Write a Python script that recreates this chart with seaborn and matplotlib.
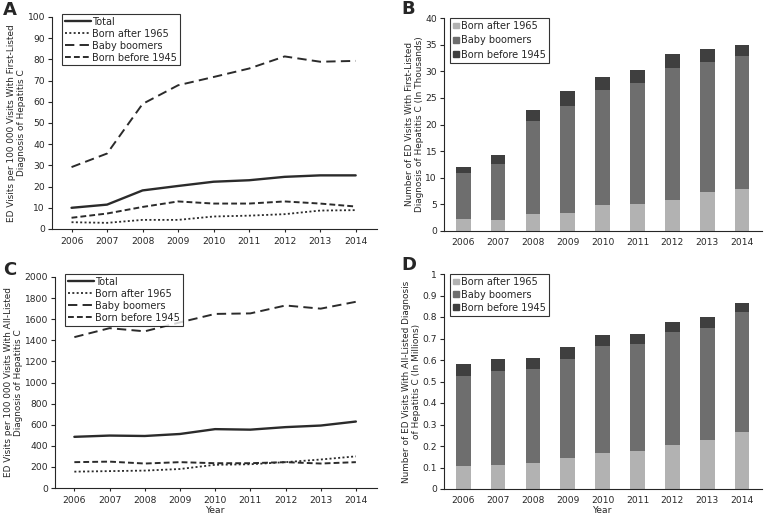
import matplotlib
matplotlib.use("Agg")
import matplotlib.pyplot as plt
import seaborn as sns
import pandas as pd
import numpy as np
from matplotlib.lines import Line2D
from matplotlib.patches import Patch

years = [2006, 2007, 2008, 2009, 2010, 2011, 2012, 2013, 2014]
groups = ["Total", "Born after 1965", "Baby boomers", "Born before 1945"]

# panel A: rate per 100 000 visits, first-listed
rate_first_total = [10.0, 11.5, 18.2, 20.3, 22.3, 23.0, 24.6, 25.3, 25.3]
rate_first_after65 = [3.2, 2.9, 4.3, 4.3, 5.9, 6.3, 7.0, 8.7, 8.9]
rate_first_boomers = [29.2, 35.6, 59.0, 67.8, 71.7, 75.7, 81.4, 78.9, 79.3]
rate_first_before45 = [5.3, 7.3, 10.4, 13.0, 12.0, 12.0, 13.0, 12.0, 10.6]

# panel B: number of visits, first-listed (thousands)
n_first_after65 = [2.3, 2.1, 3.2, 3.4, 4.8, 5.1, 5.9, 7.4, 7.8]
n_first_boomers = [8.6, 10.4, 17.4, 20.1, 21.6, 22.6, 24.8, 24.4, 25.1]
n_first_before45 = [1.2, 1.7, 2.2, 2.7, 2.6, 2.5, 2.5, 2.3, 2.1]

# panel C: rate per 100 000 visits, all-listed
rate_all_total = [485, 497, 493, 512, 558, 553, 577, 592, 630]
rate_all_after65 = [155, 160, 165, 180, 220, 225, 245, 270, 300]
rate_all_boomers = [1430, 1515, 1485, 1570, 1650, 1655, 1730, 1700, 1765]
rate_all_before45 = [245, 250, 232, 245, 235, 235, 245, 232, 245]

# panel D: number of visits, all-listed (millions)
n_all_after65 = [0.108, 0.112, 0.122, 0.142, 0.168, 0.178, 0.205, 0.230, 0.267]
n_all_boomers = [0.417, 0.438, 0.436, 0.461, 0.497, 0.497, 0.525, 0.520, 0.555]
n_all_before45 = [0.055, 0.056, 0.052, 0.056, 0.053, 0.047, 0.048, 0.050, 0.045]

sns.set_theme(style="ticks")
plt.rcParams["font.family"] = ["DejaVu Sans"]
FS = 6.6
LFS = 7

W, H = 768, 516
fig = plt.figure(figsize=(W / 100, H / 100), dpi=100)


def add_ax(l, t, r, b):
    return fig.add_axes([l / W, (H - b) / H, (r - l) / W, (b - t) / H])


line_dashes = {"Total": "", "Born after 1965": (1.1, 1.3),
               "Baby boomers": (4.8, 2.7), "Born before 1945": (3.0, 1.6)}
line_widths = {"Total": 1.7, "Born after 1965": 1.3,
               "Baby boomers": 1.4, "Born before 1945": 1.4}


def line_panel(ax, series, ymax, ystep, ylabel, letter, xlabel=None, letter_x=-0.15):
    df = pd.DataFrame({
        "Year": years * 4,
        "value": sum(series, []),
        "group": sum([[g] * len(years) for g in groups], []),
    })
    for g in groups:
        sub = df[df["group"] == g]
        sns.lineplot(data=sub, x="Year", y="value", ax=ax, color="#2b2b2b",
                     lw=line_widths[g], legend=False)
        ln = ax.lines[-1]
        if line_dashes[g]:
            ln.set_dashes(line_dashes[g])
    ax.set_xlim(2005.45, 2014.6)
    ax.set_ylim(0, ymax)
    ax.set_xticks(years)
    ax.set_yticks(np.arange(0, ymax + ystep / 2, ystep))
    ax.tick_params(axis="x", length=2.5, width=0.8, labelsize=FS, pad=3)
    ax.tick_params(axis="y", length=3, width=0.8, labelsize=FS, pad=2)
    ax.set_ylabel(ylabel, fontsize=6.4, labelpad=1)
    ax.set_xlabel(xlabel if xlabel else "", fontsize=FS, labelpad=1)
    handles = []
    for g in groups:
        h = Line2D([], [], color="#2b2b2b", lw=line_widths[g])
        if line_dashes[g]:
            h.set_dashes(line_dashes[g])
        handles.append(h)
    leg = ax.legend(handles, groups, loc="upper left", bbox_to_anchor=(0.03, 1.015),
                    fontsize=LFS, frameon=True, fancybox=False, handlelength=2.7,
                    handletextpad=0.1, borderpad=0.3, labelspacing=0.2,
                    borderaxespad=0)
    leg.get_frame().set_edgecolor("black")
    leg.get_frame().set_linewidth(0.8)
    sns.despine(ax=ax)
    for s in ["left", "bottom"]:
        ax.spines[s].set_linewidth(0.8)
    ax.text(letter_x, 1.035, letter, transform=ax.transAxes, fontsize=13,
            fontweight="bold", ha="left", va="center")


bar_colors = ["#b2b2b2", "#6e6e6e", "#3f3f3f"]
bar_labels = ["Born after 1965", "Baby boomers", "Born before 1945"]


def bar_panel(ax, after, boomers, before, ymax, ystep, ylabel, letter,
              xlabel=None, spacing=0.5):
    a = np.array(after)
    b = np.array(boomers)
    c = np.array(before)
    cum = [a + b + c, a + b, a]
    for vals, col in zip(cum, bar_colors[::-1]):
        sns.barplot(x=[str(y) for y in years], y=vals, ax=ax, color=col,
                    width=0.42, saturation=1, edgecolor="none")
    ax.set_xlim(-0.55, 8.57)
    ax.set_ylim(0, ymax)
    ticks = np.arange(0, ymax + ystep / 2, ystep)
    ax.set_yticks(ticks)
    ax.set_yticklabels(["{:g}".format(round(v, 2)) for v in ticks])
    ax.tick_params(axis="x", length=0, labelsize=FS, pad=5)
    ax.tick_params(axis="y", length=3, width=0.8, labelsize=FS, pad=2)
    ax.set_ylabel(ylabel, fontsize=6.4, labelpad=1)
    ax.set_xlabel(xlabel if xlabel else "", fontsize=FS, labelpad=1)
    handles = [Patch(color=col) for col in bar_colors]
    leg = ax.legend(handles, bar_labels, loc="upper left", bbox_to_anchor=(0.02, 1.0),
                    fontsize=LFS, frameon=True, fancybox=False, handlelength=0.55,
                    handleheight=0.55, handletextpad=0.25, borderpad=0.3,
                    labelspacing=spacing, borderaxespad=0)
    leg.get_frame().set_edgecolor("black")
    leg.get_frame().set_linewidth(0.8)
    sns.despine(ax=ax)
    for s in ["left", "bottom"]:
        ax.spines[s].set_linewidth(0.8)
    ax.text(-0.135, 1.04, letter, transform=ax.transAxes, fontsize=13,
            fontweight="bold", ha="left", va="center")


axA = add_ax(52, 17, 377, 229)
line_panel(axA, [rate_first_total, rate_first_after65, rate_first_boomers, rate_first_before45],
           100, 10, "ED Visits per 100 000 Visits With First-Listed\nDiagnosis of Hepatitis C", "A")

axB = add_ax(444, 18, 762, 231)
bar_panel(axB, n_first_after65, n_first_boomers, n_first_before45, 40, 5,
          "Number of ED Visits With First-Listed\nDiagnosis of Hepatitis C (In Thousands)", "B",
          spacing=0.45)

axC = add_ax(55, 277, 377, 488)
line_panel(axC, [rate_all_total, rate_all_after65, rate_all_boomers, rate_all_before45],
           2000, 200, "ED Visits per 100 000 Visits With All-Listed\nDiagnosis of Hepatitis C", "C",
           xlabel="Year", letter_x=-0.16)

axD = add_ax(444, 274, 762, 489)
bar_panel(axD, n_all_after65, n_all_boomers, n_all_before45, 1.0, 0.1,
          "Number of ED Visits With All-Listed Diagnosis\nof Hepatitis C (In Millions)", "D",
          xlabel="Year", spacing=0.3)

fig.savefig("out.png", dpi=100, facecolor="white")
